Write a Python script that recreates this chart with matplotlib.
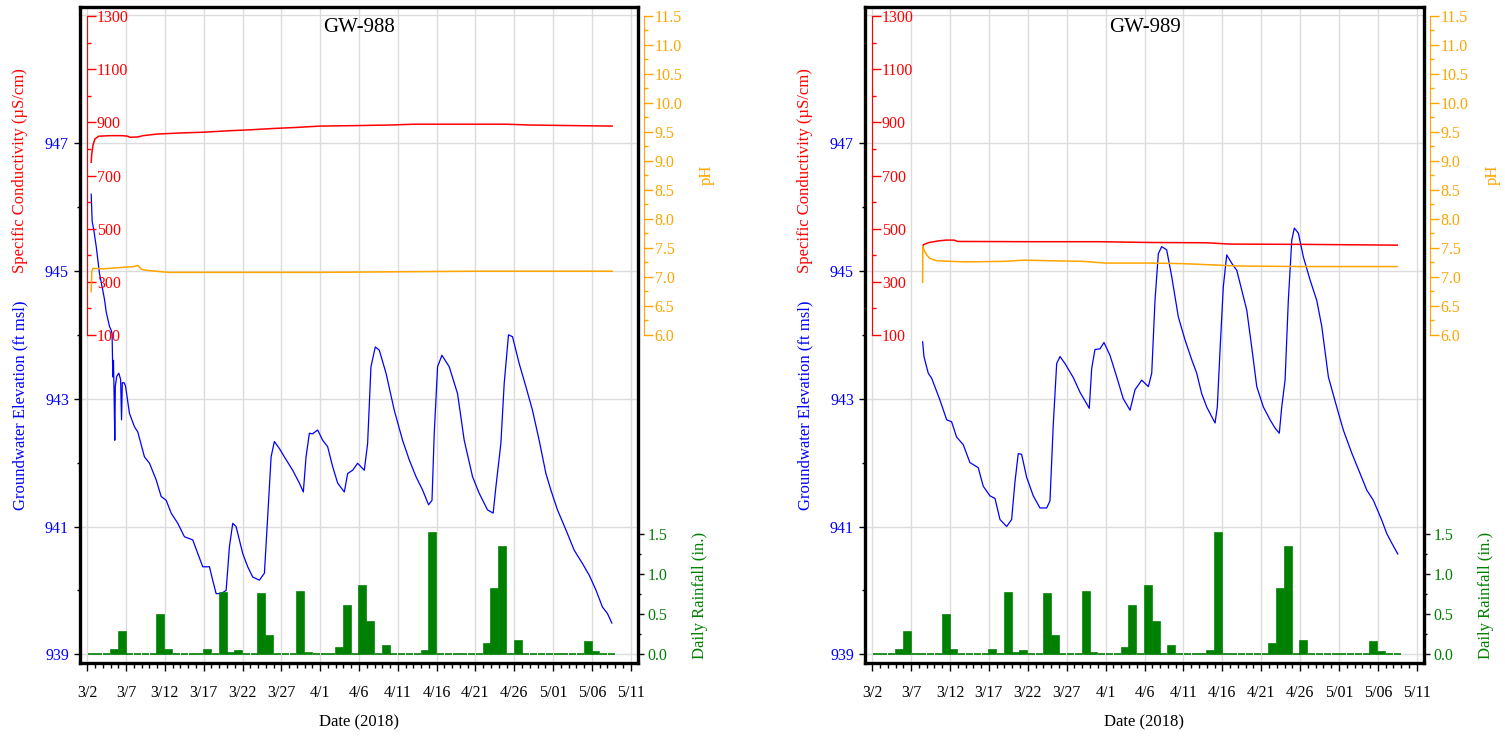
import numpy as np
import matplotlib
matplotlib.use("Agg")
import matplotlib.pyplot as plt
from matplotlib.ticker import FixedLocator, MultipleLocator, FormatStrFormatter

plt.rcParams["font.family"] = ["Liberation Serif", "DejaVu Serif"]

BLUE, RED, ORANGE, GREEN = "#0000ff", "#ff0000", "#ffa500", "#008000"
GRID = "#dcdcdc"
TICK_FS, LABEL_FS = 11.5, 12

# x values are days after 3/2/2018
date_ticks = list(range(0, 71, 5))
date_labels = ["3/2", "3/7", "3/12", "3/17", "3/22", "3/27", "4/1", "4/6", "4/11",
               "4/16", "4/21", "4/26", "5/01", "5/06", "5/11"]

# daily rainfall (in.), one value per day starting 3/2
rain_in = [0, 0, 0, 0.05, 0.28, 0, 0, 0, 0, 0.49,
           0.05, 0, 0, 0, 0, 0.05, 0, 0.76, 0.02, 0.04,
           0, 0, 0.75, 0.23, 0, 0, 0, 0.78, 0.02, 0,
           0, 0, 0.08, 0.60, 0, 0.85, 0.40, 0, 0.10, 0,
           0, 0, 0, 0.04, 1.51, 0, 0, 0, 0, 0,
           0, 0.125, 0.82, 1.34, 0, 0.17, 0, 0, 0, 0,
           0, 0, 0, 0, 0.15, 0.03, 0, 0]

# ---- GW-988 ----
gw988_day = [0.51, 0.64, 0.85, 1.16, 1.58, 2.0, 2.23, 2.44, 2.87, 3.09, 3.2, 3.3, 3.38, 3.47, 3.55,
             3.62, 3.8, 4.07, 4.3, 4.42, 4.52, 4.75, 4.93, 5.44, 6.09, 6.51, 7.37, 8.02, 8.88, 9.52,
             10.17, 10.81, 11.66, 12.52, 13.59, 14.23, 14.88, 15.74, 16.16, 16.6, 17.24, 17.89, 18.31,
             18.74, 19.17, 20.02, 20.67, 21.31, 22.17, 22.82, 23.24, 23.68, 24.1, 24.75, 25.39, 26.46,
             27.32, 27.83, 28.18, 28.61, 29.0, 29.68, 30.32, 30.96, 31.6, 32.25, 33.11, 33.54, 34.18,
             34.82, 35.68, 36.11, 36.54, 37.1, 37.61, 38.48, 39.54, 40.61, 41.48, 42.34, 43.19, 43.96,
             44.4, 44.69, 45.12, 45.68, 46.62, 47.69, 48.55, 49.62, 50.48, 51.55, 52.28, 52.63, 53.27,
             53.7, 54.25, 54.77, 55.63, 56.49, 57.34, 58.2, 59.07, 59.71, 60.56, 61.64, 62.71, 63.78,
             64.64, 65.5, 66.35, 66.99, 67.56]
gw988_elev = [946.2, 945.77, 945.64, 945.38, 944.96, 944.7, 944.55, 944.36, 944.13, 944.07, 944.02,
              943.34, 943.6, 943.0, 942.35, 943.2, 943.35, 943.4, 943.3, 942.67, 943.25, 943.25, 943.2,
              942.77, 942.56, 942.48, 942.09, 941.99, 941.73, 941.47, 941.41, 941.21, 941.05, 940.84,
              940.79, 940.58, 940.37, 940.37, 940.16, 939.95, 939.95, 940.0, 940.68, 941.05, 941.0,
              940.58, 940.37, 940.21, 940.16, 940.27, 941.15, 942.09, 942.33, 942.22, 942.09, 941.88,
              941.68, 941.54, 942.09, 942.46, 942.45, 942.51, 942.35, 942.25, 941.94, 941.68, 941.54,
              941.83, 941.88, 941.99, 941.88, 942.3, 943.5, 943.81, 943.76, 943.4, 942.82, 942.35,
              942.04, 941.78, 941.57, 941.34, 941.41, 942.46, 943.5, 943.68, 943.5, 943.08, 942.35,
              941.78, 941.52, 941.26, 941.21, 941.62, 942.3, 943.24, 944.0, 943.97, 943.55, 943.19,
              942.82, 942.35, 941.83, 941.57, 941.26, 940.95, 940.63, 940.42, 940.24, 940.01, 939.74,
              939.64, 939.49]
sc988_day = [0.51, 0.58, 0.75, 1.0, 1.5, 3.0, 4.5, 5.2, 5.5, 6.5, 7.2, 9.0, 12.0, 15.0, 18.0, 21.0,
             24.0, 27.0, 30.0, 35.0, 39.0, 42.0, 48.0, 54.0, 57.0, 62.0, 67.6]
sc988 = [750, 780, 815, 838, 848, 850, 850, 848, 844, 845, 850, 856, 860, 863, 868, 872,
         877, 881, 886, 888, 890, 893, 893, 893, 890, 888, 886]
ph988_day = [0.51, 0.6, 0.75, 2.0, 4.0, 5.0, 6.0, 6.5, 7.0, 8.0, 10.5, 20.0, 30.0, 40.0, 50.0, 60.0, 67.6]
ph988 = [6.75, 7.1, 7.15, 7.14, 7.16, 7.17, 7.18, 7.2, 7.13, 7.11, 7.08, 7.08, 7.08, 7.09, 7.1, 7.1, 7.1]

# ---- GW-989 ----
gw989_day = [6.48, 6.65, 7.2, 7.64, 8.7, 9.57, 10.2, 10.85, 11.7, 12.56, 13.63, 14.27, 15.13, 15.78,
             16.42, 17.28, 17.92, 18.35, 18.77, 19.2, 19.85, 20.7, 21.56, 22.42, 22.85, 23.27, 23.71,
             24.14, 24.78, 25.85, 26.71, 27.57, 27.9, 28.21, 28.63, 29.28, 29.79, 30.56, 31.43, 32.27,
             33.14, 33.78, 34.64, 35.5, 35.93, 36.35, 36.78, 37.21, 37.85, 38.5, 39.35, 40.21, 41.07,
             41.71, 42.35, 43.0, 43.64, 44.07, 44.36, 44.71, 45.13, 45.57, 46.21, 46.86, 47.5, 48.14,
             48.78, 49.43, 50.28, 51.14, 51.78, 52.33, 52.64, 53.07, 53.49, 53.93, 54.26, 54.78, 55.42,
             56.28, 57.14, 57.79, 58.64, 59.71, 60.56, 61.64, 62.71, 63.57, 64.42, 65.5, 66.14, 66.79,
             67.56]
gw989_elev = [943.89, 943.66, 943.4, 943.32, 942.98, 942.67, 942.64, 942.4, 942.28, 942.0, 941.92,
              941.63, 941.48, 941.44, 941.11, 941.0, 941.11, 941.7, 942.14, 942.13, 941.77, 941.48,
              941.29, 941.29, 941.4, 942.59, 943.55, 943.66, 943.55, 943.33, 943.1, 942.92, 942.85,
              943.47, 943.77, 943.78, 943.88, 943.68, 943.34, 943.0, 942.82, 943.14, 943.29, 943.19,
              943.4, 944.54, 945.27, 945.38, 945.33, 944.91, 944.28, 943.92, 943.61, 943.4, 943.08,
              942.87, 942.72, 942.62, 942.87, 943.76, 944.75, 945.25, 945.12, 945.01, 944.7, 944.39,
              943.81, 943.19, 942.87, 942.67, 942.54, 942.46, 942.87, 943.29, 944.54, 945.48, 945.67,
              945.59, 945.22, 944.86, 944.54, 944.13, 943.34, 942.87, 942.51, 942.15, 941.83, 941.57,
              941.41, 941.1, 940.89, 940.74, 940.57]
sc989_day = [6.48, 6.6, 7.3, 8.5, 9.5, 10.5, 11.0, 20.0, 29.0, 36.0, 43.0, 46.0, 55.0, 67.5]
sc989 = [431, 440, 448, 454, 457, 457, 452, 451, 451, 448, 447, 442, 441, 438]
ph989_day = [6.48, 6.5, 6.7, 7.0, 7.4, 8.3, 12.0, 17.0, 19.5, 23.0, 27.0, 30.0, 36.0, 40.0, 47.0, 55.0, 67.5]
ph989 = [6.91, 7.53, 7.45, 7.38, 7.32, 7.28, 7.26, 7.27, 7.29, 7.28, 7.27, 7.24, 7.24, 7.23, 7.19, 7.18, 7.18]

W, H = 1505, 737
fig = plt.figure(figsize=(W / 100, H / 100), dpi=100)


def ftext(x, y, s, **kw):
    fig.text(x / W, 1 - y / H, s, ha="center", va="center", fontsize=LABEL_FS, **kw)


def panel(left, right, title, gw_d, gw, sc_d, sc, ph_d, ph):
    top, bot = 7, 663
    ax = fig.add_axes([left / W, 1 - bot / H, (right - left) / W, (bot - top) / H])
    ax.set_xlim(-0.93, 70.93)
    ax.set_ylim(938.864, 949.13)
    ax.set_xticks(date_ticks, date_labels)
    ax.xaxis.set_minor_locator(MultipleLocator(1))
    ax.set_yticks([939, 941, 943, 945, 947])
    ax.yaxis.set_minor_locator(FixedLocator([940, 942, 944, 946]))
    ax.set_axisbelow(True)
    ax.grid(True, color=GRID, lw=1)
    ax.axhline(949, color=GRID, lw=1, zorder=0)
    for s in ax.spines.values():
        s.set_linewidth(2.4)
    ax.tick_params(axis="x", which="major", length=6, width=1, pad=10, labelsize=TICK_FS)
    ax.tick_params(axis="x", which="minor", length=3.5, width=1)
    ax.tick_params(axis="y", which="major", length=4, width=1, pad=4, labelsize=TICK_FS, labelcolor=BLUE)
    ax.tick_params(axis="y", which="minor", length=2.5, width=1)
    ax.plot(gw_d, gw, color=BLUE, lw=0.9)
    ax.text(0.5, 0.9695, title, transform=ax.transAxes, ha="center", va="center", fontsize=15)

    # rainfall bars
    axr = ax.twinx()
    axr.set_ylim(-0.109, 8.09)
    days = np.arange(len(rain_in))
    axr.bar(days + 0.5, rain_in, width=0.9, color=GREEN, edgecolor=GREEN, lw=1.2)
    axr.set_yticks([0, 0.5, 1.0, 1.5])
    axr.yaxis.set_minor_locator(FixedLocator([0.25, 0.75, 1.25]))
    axr.yaxis.set_major_formatter(FormatStrFormatter("%.1f"))
    axr.tick_params(axis="y", which="major", length=4, width=1, colors="black",
                    labelcolor=GREEN, pad=3, labelsize=TICK_FS)
    axr.tick_params(axis="y", which="minor", length=2.5, width=1, colors="black")
    for s in axr.spines.values():
        s.set_visible(False)

    # specific conductivity
    axc = ax.twinx()
    axc.set_ylim(-1134, 1334)
    axc.plot(sc_d, sc, color=RED, lw=1.1)
    for k in ("left", "top", "bottom"):
        axc.spines[k].set_visible(False)
    axc.spines["right"].set_position(("data", 0))
    axc.spines["right"].set_bounds(100, 1300)
    axc.spines["right"].set_color(RED)
    axc.set_yticks(list(range(100, 1301, 200)))
    axc.yaxis.set_minor_locator(FixedLocator(list(range(200, 1300, 200))))
    axc.tick_params(axis="y", which="major", colors=RED, length=6.5, width=1, pad=0.5, labelsize=TICK_FS)
    axc.tick_params(axis="y", which="minor", colors=RED, length=3, width=1)

    # pH
    axp = ax.twinx()
    axp.set_ylim(0.345, 11.655)
    axp.plot(ph_d, ph, color=ORANGE, lw=1.1)
    for k in ("left", "top", "bottom"):
        axp.spines[k].set_visible(False)
    axp.spines["right"].set_position(("outward", 4.5))
    axp.spines["right"].set_bounds(6.0, 11.5)
    axp.spines["right"].set_color(ORANGE)
    axp.set_yticks(np.arange(6.0, 11.51, 0.5))
    axp.yaxis.set_minor_locator(FixedLocator(np.arange(6.25, 11.5, 0.5)))
    axp.yaxis.set_major_formatter(FormatStrFormatter("%.1f"))
    axp.tick_params(axis="y", which="major", colors=ORANGE, length=6.5, width=1, pad=1, labelsize=TICK_FS)
    axp.tick_params(axis="y", which="minor", colors=ORANGE, length=3, width=1)

    ftext(left - 60, 405, "Groundwater Elevation (ft msl)", color=BLUE, rotation=90)
    ftext(left - 60, 171, "Specific Conductivity (µS/cm)", color=RED, rotation=90)
    ftext(right + 69, 175, "pH", color=ORANGE, rotation=90)
    ftext(right + 62, 595, "Daily Rainfall (in.)", color=GREEN, rotation=90)
    ftext((left + right) / 2, 722, "Date (2018)")


panel(80, 638, "GW-988", gw988_day, gw988_elev, sc988_day, sc988, ph988_day, ph988)
panel(865, 1424, "GW-989", gw989_day, gw989_elev, sc989_day, sc989, ph989_day, ph989)

fig.savefig("out.png", dpi=100)
